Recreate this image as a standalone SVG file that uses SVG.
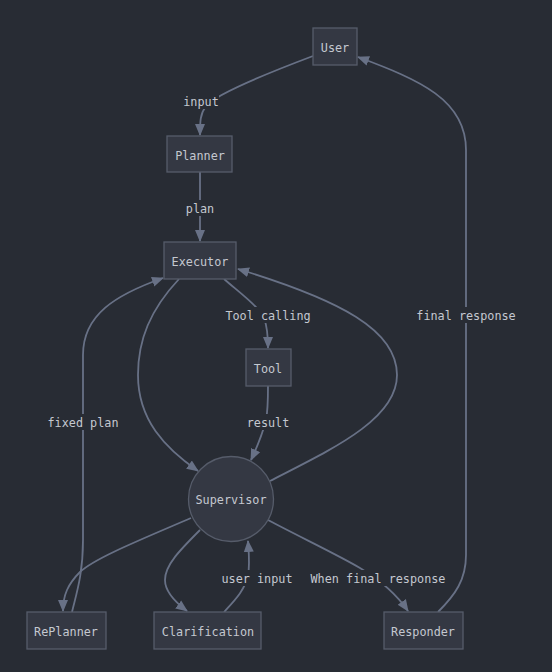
<svg xmlns="http://www.w3.org/2000/svg" width="552" height="672" viewBox="0 0 552 672">
<style>
.node rect, .node circle { fill: #343843; stroke: #565c6a; stroke-width: 1.3; }
text { font-family: "DejaVu Sans Mono", "Liberation Mono", monospace; font-size: 11.8px; fill: #c4c8d0; text-anchor: middle; dominant-baseline: central; }
.edge { fill: none; stroke: #687186; stroke-width: 1.8; marker-end: url(#arr); }
.lbg { fill: #282c34; }
</style>
<defs>
<marker id="arr" markerUnits="userSpaceOnUse" markerWidth="12" markerHeight="12" viewBox="0 0 12 12" refX="11" refY="6" orient="auto">
<path d="M0,1 L12,6 L0,11 Z" fill="#687186"/>
</marker>
</defs>
<rect width="552" height="672" fill="#282c34"/>
<g id="connectors">
<path class="edge" d="M313,56 C260,76 215,95 206,106 C200,114 200,122 200,135"/>
<path class="edge" d="M200,172 L200,241"/>
<path class="edge" d="M224,279 C240,293 258,306 264,318 C267,326 268,335 268,348"/>
<path class="edge" d="M268,386 C268,400 268,410 266,420 C263,432 258,445 251,460"/>
<path class="edge" d="M179,279 C150,310 138,340 138,375 C138,420 165,448 198,471"/>
<path class="edge" d="M270,481 C330,450 397,420 397,375 C397,330 340,300 238,269"/>
<path class="edge" d="M72,612 C76,595 83,575 83,540 L83,355 C83,315 115,295 163,278"/>
<path class="edge" d="M191,518 C140,540 95,558 80,572 C68,584 63,595 63,611"/>
<path class="edge" d="M200,530 C180,550 165,565 165,580 C165,592 175,602 187,611"/>
<path class="edge" d="M224,612 C235,600 245,590 248,575 C250,565 249,555 248,541"/>
<path class="edge" d="M268,520 C300,537 340,556 360,568 C380,580 397,595 408,611"/>
<path class="edge" d="M438,612 C455,595 466,580 466,555 L466,150 C466,100 420,80 358,57"/>
<g id="edge-labels">
<rect class="lbg" x="183" y="93" width="36" height="16"/><text x="201" y="102">input</text>
<rect class="lbg" x="185" y="200" width="30" height="16"/><text x="200" y="209">plan</text>
<rect class="lbg" x="225" y="307" width="86" height="16"/><text x="268" y="316">Tool calling</text>
<rect class="lbg" x="246" y="414" width="44" height="16"/><text x="268" y="423">result</text>
<rect class="lbg" x="47" y="414" width="72" height="16"/><text x="83" y="423">fixed plan</text>
<rect class="lbg" x="416" y="307" width="100" height="16"/><text x="466" y="316">final response</text>
<rect class="lbg" x="221" y="570" width="72" height="16"/><text x="257" y="579">user input</text>
<rect class="lbg" x="311" y="570" width="134" height="16"/><text x="378" y="579">When final response</text>
</g>
</g>
<g id="User" class="node"><rect x="313" y="28" width="44" height="37"/><text x="335" y="48">User</text></g>
<g id="Planner" class="node"><rect x="167" y="136" width="65" height="36"/><text x="200" y="156">Planner</text></g>
<g id="Executor" class="node"><rect x="164" y="242" width="72" height="37"/><text x="200" y="262">Executor</text></g>
<g id="Tool" class="node"><rect x="246" y="349" width="45" height="37"/><text x="268" y="369">Tool</text></g>
<g id="Supervisor" class="node"><circle cx="231" cy="499" r="42.5"/><text x="231" y="500">Supervisor</text></g>
<g id="RePlanner" class="node"><rect x="27" y="612" width="79" height="37"/><text x="66" y="632">RePlanner</text></g>
<g id="Clarification" class="node"><rect x="154" y="612" width="107" height="37"/><text x="208" y="632">Clarification</text></g>
<g id="Responder" class="node"><rect x="384" y="612" width="79" height="37"/><text x="423" y="632">Responder</text></g>
</svg>
